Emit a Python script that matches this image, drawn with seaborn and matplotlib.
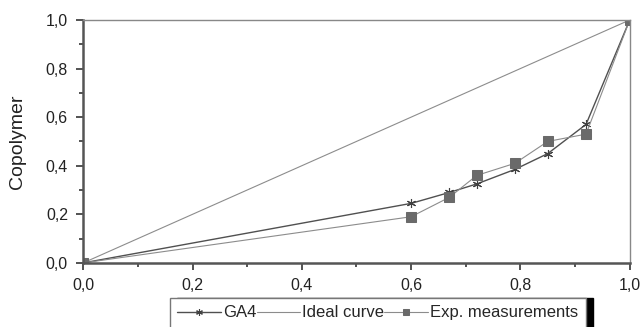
import numpy as np
import pandas as pd
import seaborn as sns
import matplotlib
matplotlib.use("Agg")
import matplotlib.pyplot as plt
from matplotlib.ticker import MultipleLocator, FuncFormatter

# values
ga4_x = [0.0, 0.60, 0.67, 0.72, 0.79, 0.85, 0.92, 1.0]
ga4_y = [0.0, 0.245, 0.29, 0.325, 0.385, 0.45, 0.57, 1.0]
ideal_x = [0.0, 1.0]
ideal_y = [0.0, 1.0]
exp_x = [0.0, 0.60, 0.67, 0.72, 0.79, 0.85, 0.92, 1.0]
exp_y = [0.0, 0.19, 0.27, 0.36, 0.41, 0.50, 0.53, 1.0]

sns.set_style("white")
plt.rcParams['font.family'] = ['Liberation Sans', 'DejaVu Sans']

fig = plt.figure(figsize=(6.4, 3.27), dpi=100)
ax = fig.add_axes([0.13, 0.196, 0.854, 0.743])

sns.lineplot(x=ga4_x, y=ga4_y, ax=ax, color="#505050", lw=1.0,
             marker=(6, 2, 0), markersize=6.5, markeredgecolor="#404040",
             markeredgewidth=0.8, label="GA4")
sns.lineplot(x=ideal_x, y=ideal_y, ax=ax, color="#8c8c8c", lw=0.8,
             label="Ideal curve")
sns.lineplot(x=exp_x, y=exp_y, ax=ax, color="#8c8c8c", lw=0.8,
             marker="s", markersize=6.5, markerfacecolor="#6a6a6a",
             markeredgecolor="#6a6a6a", label="Exp. measurements")

ax.set_xlim(0, 1)
ax.set_ylim(0, 1)
ax.xaxis.set_major_locator(MultipleLocator(0.2))
ax.yaxis.set_major_locator(MultipleLocator(0.2))
ax.xaxis.set_minor_locator(MultipleLocator(0.1))
ax.yaxis.set_minor_locator(MultipleLocator(0.1))
fmt = FuncFormatter(lambda v, p: f"{v:.1f}".replace(".", ","))
ax.xaxis.set_major_formatter(fmt)
ax.yaxis.set_major_formatter(fmt)
ax.tick_params(axis="both", which="major", direction="out", length=5,
               width=1.3, color="#444444", labelsize=11.5, labelcolor="#222222",
               bottom=True, left=True, pad=6)
ax.tick_params(axis="both", which="minor", direction="out", length=3,
               width=1.3, color="#444444", bottom=True, left=True)
ax.set_ylabel("Copolymer", fontsize=14, color="#222222", labelpad=14)
ax.set_xlabel("")

for side in ["left", "bottom"]:
    ax.spines[side].set_linewidth(1.8)
    ax.spines[side].set_color("#555555")
for side in ["top", "right"]:
    ax.spines[side].set_linewidth(1.0)
    ax.spines[side].set_color("#888888")

ax.legend(loc="upper center", bbox_to_anchor=(0.539, -0.144), ncol=3,
          frameon=True, fancybox=False,
          shadow={"color": "black", "alpha": 1.0, "ox": 5, "oy": 0},
          edgecolor="#777777", fontsize=12, handlelength=2.6,
          columnspacing=0.0, handletextpad=0.15, borderpad=0.45,
          borderaxespad=0, markerscale=0.75)

fig.savefig("out.png", dpi=100)
